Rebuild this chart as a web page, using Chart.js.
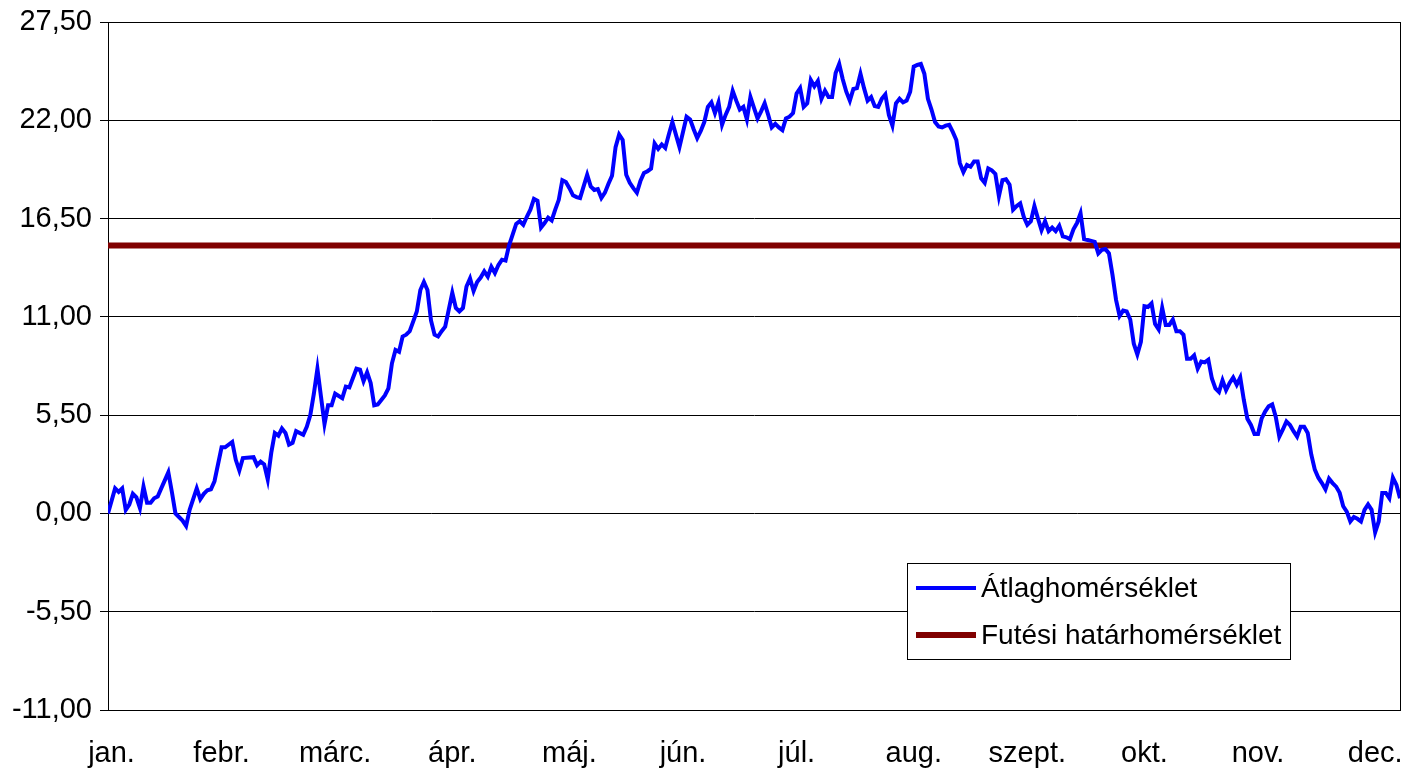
<!DOCTYPE html>
<html>
<head>
<meta charset="utf-8">
<script src="https://cdn.jsdelivr.net/npm/chart.js@4"></script>
<style>
  body { margin: 0; background: #fff; }
  #wrap { width: 1402px; height: 770px; position: relative; }
</style>
</head>
<body>
<div id="wrap"><canvas id="myChart"></canvas></div>
<script>
// month labels on the x axis and the day they sit on
const monthLabels = ["jan.", "febr.", "márc.", "ápr.", "máj.", "jún.", "júl.", "aug.", "szept.", "okt.", "nov.", "dec."];
const monthTickDays = [1, 32, 64, 97, 130, 162, 194, 227, 259, 292, 324, 357];

// y axis ticks
const yTicks = [-11, -5.5, 0, 5.5, 11, 16.5, 22, 27.5];

// daily mean temperature (day of year, °C)
const days = [
  0, 2, 3, 4, 5, 6, 7, 8, 9, 10, 11, 12, 13, 14, 15, 17, 18, 19, 20, 21, 22, 23, 25, 26, 27, 28, 29, 30, 32, 33,
  35, 36, 37, 38, 41, 42, 43, 44, 45, 46, 47, 48, 49, 50, 51, 52, 53, 55, 56, 57, 58, 59, 60, 61, 62, 63, 64, 66, 67, 68,
  70, 71, 72, 73, 74, 75, 76, 77, 78, 79, 80, 81, 82, 83, 84, 85, 86, 87, 88, 89, 90, 91, 92, 93, 94, 95, 96, 97, 98, 99,
  100, 101, 102, 103, 104, 105, 106, 107, 108, 109, 110, 111, 112, 113, 114, 115, 116, 117, 118, 119, 120, 121, 122, 123, 124, 125, 126, 127, 128, 129,
  130, 131, 132, 133, 134, 135, 136, 137, 138, 139, 140, 141, 142, 143, 144, 145, 146, 147, 148, 149, 150, 151, 152, 153, 154, 155, 156, 157, 158, 159,
  160, 161, 163, 164, 165, 166, 167, 168, 169, 170, 171, 172, 173, 174, 175, 176, 177, 178, 179, 180, 181, 182, 183, 184, 185, 186, 187, 188, 189, 190,
  191, 192, 193, 194, 195, 196, 197, 198, 199, 200, 201, 202, 203, 204, 205, 206, 207, 208, 209, 210, 211, 212, 213, 214, 215, 216, 217, 218, 219, 220,
  221, 222, 223, 224, 225, 226, 227, 228, 229, 230, 231, 232, 233, 234, 235, 236, 237, 238, 239, 240, 241, 242, 243, 244, 245, 246, 247, 248, 249, 250,
  251, 252, 253, 254, 255, 256, 257, 258, 259, 260, 261, 262, 263, 264, 265, 266, 267, 268, 269, 270, 271, 272, 273, 274, 275, 276, 277, 278, 279, 280,
  281, 282, 283, 284, 285, 286, 287, 288, 289, 290, 291, 292, 293, 294, 295, 296, 297, 298, 299, 300, 301, 302, 303, 304, 305, 306, 307, 308, 309, 310,
  311, 312, 313, 314, 315, 316, 317, 318, 319, 320, 321, 322, 323, 324, 325, 326, 327, 328, 329, 330, 331, 332, 333, 334, 335, 336, 337, 338, 339, 340,
  341, 342, 343, 344, 345, 346, 347, 348, 349, 350, 351, 352, 353, 354, 355, 356, 357, 358, 359, 360, 361, 362, 363, 364
];
const avgTemp = [
  0.0, 1.4, 1.2, 1.4, 0.2, 0.5, 1.1, 0.9, 0.3, 1.5, 0.6, 0.6, 0.85, 0.95, 1.4, 2.3, 1.2, 0.0, -0.2, -0.4, -0.7, 0.2, 1.4, 0.8, 1.1, 1.3, 1.35, 1.8, 3.7, 3.7,
  4.0, 3.0, 2.4, 3.1, 3.15, 2.7, 2.9, 2.75, 1.9, 3.4, 4.5, 4.35, 4.75, 4.5, 3.85, 3.95, 4.6, 4.4, 4.85, 5.5, 6.7, 8.1, 6.55, 5.0, 6.05, 6.05, 6.7, 6.45, 7.1, 7.05,
  8.1, 8.05, 7.4, 7.9, 7.3, 6.05, 6.1, 6.35, 6.6, 7.0, 8.4, 9.15, 9.05, 9.9, 10.0, 10.2, 10.75, 11.3, 12.5, 12.95, 12.5, 10.8, 10.0, 9.9, 10.2, 10.45, 11.4, 12.35, 11.5, 11.3,
  11.5, 12.7, 13.15, 12.45, 12.95, 13.2, 13.55, 13.25, 13.8, 13.45, 13.9, 14.2, 14.15, 15.0, 15.6, 16.2, 16.35, 16.15, 16.6, 17.0, 17.6, 17.5, 16.0, 16.25, 16.55, 16.4, 17.0, 17.55, 18.65, 18.55,
  18.2, 17.8, 17.7, 17.65, 18.3, 18.95, 18.3, 18.1, 18.15, 17.65, 17.95, 18.45, 18.9, 20.5, 21.2, 20.9, 18.95, 18.5, 18.2, 17.95, 18.6, 19.05, 19.15, 19.3, 20.7, 20.4, 20.65, 20.45, 21.2, 21.9,
  21.2, 20.5, 22.2, 22.05, 21.5, 21.0, 21.4, 21.9, 22.75, 23.0, 22.4, 23.0, 21.75, 22.3, 22.75, 23.65, 23.1, 22.6, 22.75, 22.05, 23.3, 22.7, 22.1, 22.5, 22.95, 22.3, 21.6, 21.8, 21.6, 21.45,
  22.1, 22.2, 22.4, 23.5, 23.8, 22.75, 22.95, 24.25, 23.9, 24.2, 23.2, 23.65, 23.3, 23.3, 24.65, 25.15, 24.3, 23.6, 23.1, 23.75, 23.8, 24.6, 23.8, 23.1, 23.3, 22.8, 22.75, 23.2, 23.45, 22.3,
  21.7, 22.95, 23.2, 23.0, 23.1, 23.6, 25.0, 25.1, 25.15, 24.6, 23.2, 22.6, 21.9, 21.65, 21.6, 21.7, 21.75, 21.35, 20.9, 19.6, 19.1, 19.5, 19.4, 19.7, 19.7, 18.75, 18.5, 19.3, 19.2, 19.0,
  17.75, 18.65, 18.7, 18.4, 17.0, 17.2, 17.35, 16.6, 16.15, 16.35, 17.2, 16.5, 15.85, 16.35, 15.8, 16.0, 15.8, 16.1, 15.5, 15.45, 15.35, 15.9, 16.25, 16.8, 15.35, 15.3, 15.25, 15.2, 14.55, 14.75,
  14.8, 14.55, 13.35, 11.95, 11.05, 11.35, 11.3, 10.85, 9.5, 8.9, 9.6, 11.6, 11.55, 11.75, 10.6, 10.3, 11.5, 10.55, 10.55, 10.85, 10.2, 10.2, 10.0, 8.65, 8.65, 8.85, 8.1, 8.5, 8.45, 8.6,
  7.55, 7.0, 6.8, 7.45, 6.9, 7.3, 7.6, 7.2, 7.6, 6.35, 5.3, 4.95, 4.45, 4.45, 5.3, 5.7, 6.0, 6.1, 5.4, 4.3, 4.7, 5.15, 4.95, 4.6, 4.3, 4.85, 4.85, 4.5, 3.3, 2.45,
  2.0, 1.7, 1.35, 1.95, 1.7, 1.5, 1.15, 0.4, 0.1, -0.45, -0.2, -0.3, -0.45, 0.2, 0.5, 0.2, -1.05, -0.45, 1.15, 1.15, 0.85, 2.0, 1.6, 0.85
];

// heating limit temperature
const heatingLimit = 15;
const firstDay = 0;
const lastDay = 364;

const seriesNames = ["Átlaghomérséklet", "Futési határhomérséklet"];
const seriesColors = ["#0000ff", "#800000"];
const seriesWidths = [4, 6];

const fontFamily = "'Liberation Sans', Arial, sans-serif";
const axisFontSize = 29;
const legendFontSize = 28;

// legend box inside the plot, like in the spreadsheet
const boxLegend = {
  id: "boxLegend",
  afterDatasetsDraw(chart) {
    const c = chart.ctx;
    const x = 907, y = 563, w = 383, h = 96;
    c.save();
    c.fillStyle = "#fff";
    c.fillRect(x, y, w, h);
    c.strokeStyle = "#000";
    c.lineWidth = 1;
    c.strokeRect(x + 0.5, y + 0.5, w, h);
    c.font = legendFontSize + "px " + fontFamily;
    c.textBaseline = "middle";
    c.fillStyle = "#000";
    seriesNames.forEach((name, i) => {
      const ly = y + 25 + i * 47;
      c.strokeStyle = seriesColors[i];
      c.lineWidth = seriesWidths[i];
      c.beginPath();
      c.moveTo(916, ly);
      c.lineTo(976, ly);
      c.stroke();
      c.fillText(name, 981, ly + 1);
    });
    c.restore();
  },
};

// plot area frame (top and right sides)
const frame = {
  id: "frame",
  beforeDatasetsDraw(chart) {
    const a = chart.chartArea;
    const c = chart.ctx;
    c.save();
    c.strokeStyle = "#000";
    c.lineWidth = 1;
    c.strokeRect(Math.round(a.left) + 0.5, Math.round(a.top) + 0.5, Math.round(a.right - a.left), Math.round(a.bottom - a.top));
    c.restore();
  },
};

const data = {
  datasets: [
    {
      label: seriesNames[0],
      data: days.map((d, i) => ({ x: d, y: avgTemp[i] })),
      borderColor: seriesColors[0],
      borderWidth: seriesWidths[0],
      pointRadius: 0,
      tension: 0,
      fill: false,
    },
    {
      label: seriesNames[1],
      data: [{ x: firstDay, y: heatingLimit }, { x: lastDay, y: heatingLimit }],
      borderColor: seriesColors[1],
      borderWidth: seriesWidths[1],
      pointRadius: 0,
      fill: false,
    },
  ],
};

const config = {
  type: "line",
  data: data,
  options: {
    responsive: true,
    maintainAspectRatio: false,
    animation: false,
    layout: { padding: { top: 22, right: 2, left: 0, bottom: 0 } },
    plugins: { legend: { display: false }, tooltip: { enabled: false } },
    scales: {
      x: {
        type: "linear",
        min: firstDay,
        max: lastDay,
        afterBuildTicks: (scale) => {
          scale.ticks = monthTickDays.map((v) => ({ value: v }));
        },
        afterFit: (scale) => {
          scale.height = 60;
          scale.paddingLeft = 0;
          scale.paddingRight = 0;
        },
        grid: { display: false },
        border: { display: true, color: "#000", width: 1 },
        ticks: {
          autoSkip: false,
          maxRotation: 0,
          padding: 19,
          color: "#000",
          font: { family: fontFamily, size: axisFontSize },
          callback: (value, index) => monthLabels[index],
        },
      },
      y: {
        min: yTicks[0],
        max: yTicks[yTicks.length - 1],
        afterBuildTicks: (scale) => {
          scale.ticks = yTicks.map((v) => ({ value: v }));
        },
        afterFit: (scale) => {
          scale.width = 108;
          scale.paddingTop = 0;
          scale.paddingBottom = 0;
        },
        grid: { color: "#000", lineWidth: 1, tickLength: 8, drawTicks: true },
        border: { display: true, color: "#000", width: 1 },
        ticks: {
          padding: 8,
          color: "#000",
          font: { family: fontFamily, size: axisFontSize },
          callback: (value) => value.toFixed(2).replace(".", ","),
        },
      },
    },
  },
  plugins: [frame, boxLegend],
};

let myChart = new Chart(document.getElementById("myChart"), config);
</script>
</body>
</html>
